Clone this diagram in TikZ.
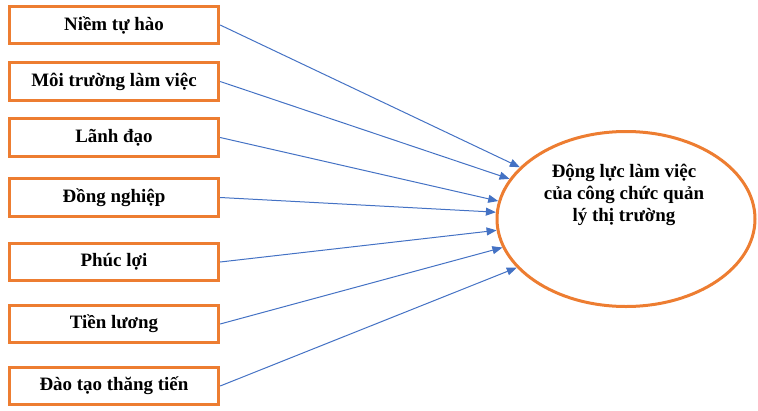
\documentclass[tikz,border=0pt]{standalone}
\usepackage{fontspec}
\setmainfont{Liberation Serif}
\usepackage{tikz}
\usetikzlibrary{arrows.meta,shapes.geometric}
\usetikzlibrary{positioning}
\definecolor{boxorange}{HTML}{ED7D31}
\definecolor{arrowblue}{HTML}{4472C4}
\tikzset{
    factor/.style={
           rectangle,
           draw=boxorange, line width=2.25pt,
           minimum width=157pt,
           minimum height=28pt,
           inner sep=2pt,
           text centered,
           font=\bfseries\fontsize{14.2}{16}\selectfont,
           },
}

\begin{document}
\begin{tikzpicture}[->,>={Triangle[length=7.5pt,width=6pt]},x=0.75pt,y=-0.75pt,
                    draw=arrowblue,line width=0.75pt]
  \useasboundingbox (0,0) rectangle (758,411);

  \node[factor] (pride)   at (114,25)    {Niềm tự hào};
  \node[factor] (env)     at (114,81.5)  {Môi trường làm việc};
  \node[factor] (lead)    at (114,137.5) {Lãnh đạo};
  \node[factor] (peer)    at (114,197.5) {Đồng nghiệp};
  \node[factor] (welfare) at (114,262)   {Phúc lợi};
  \node[factor] (salary)  at (114,324)   {Tiền lương};
  \node[factor] (promo)   at (114,386)   {Đào tạo thăng tiến};

  \node[ellipse,draw=boxorange,line width=2.25pt,minimum width=193.5pt,
        minimum height=131.25pt,inner sep=0pt] (goal) at (626,219) {};
  \node[align=center,font=\bfseries\fontsize{14.2}{16.5}\selectfont]
        (goaltext) at (624,195) {Động lực làm việc\\của công chức quản\\lý thị trường};

  \path (pride.east)   edge (goal.154)
        (env.east)     edge (goal.161)
        (lead.east)    edge (goal.172)
        (peer.east)    edge (goal.177)
        (welfare.east) edge (goal.185)
        (salary.east)  edge (goal.193)
        (promo.east)   edge (goal.204);
\end{tikzpicture}
\end{document}
